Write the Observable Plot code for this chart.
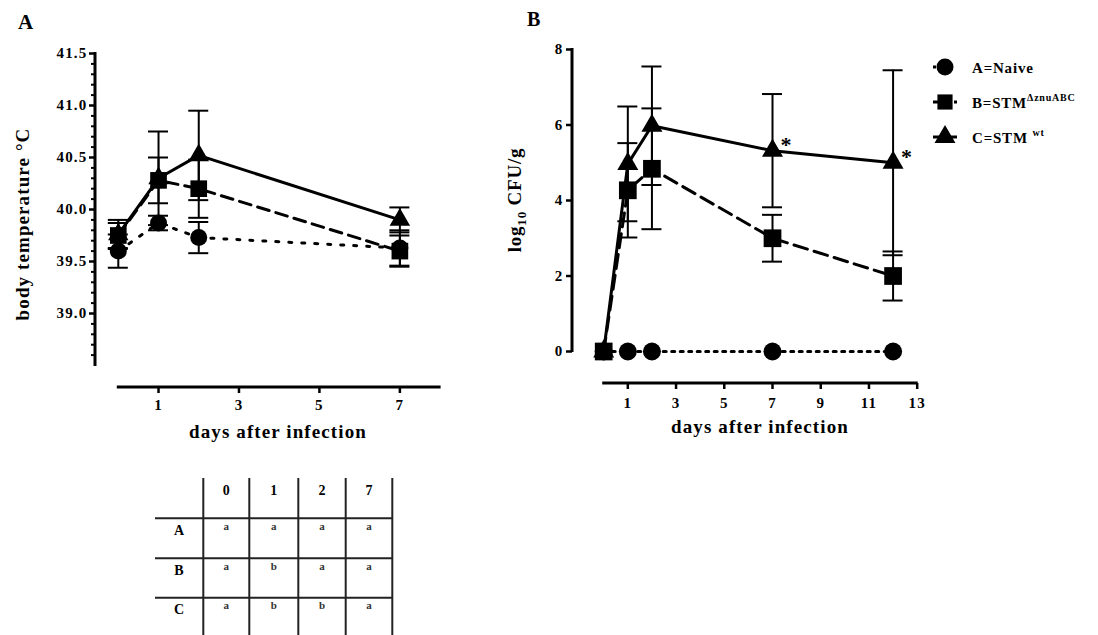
<!DOCTYPE html>
<html>
<head>
<meta charset="utf-8">
<script src="https://cdn.jsdelivr.net/npm/d3@7"></script>
<script src="https://cdn.jsdelivr.net/npm/@observablehq/plot@0.6"></script>
<style>
  body { margin: 0; background: #fff; }
  #fig { position: relative; width: 1098px; height: 635px; overflow: hidden; background: #fff; }
  #fig svg { position: absolute; left: 0; top: 0; }
</style>
</head>
<body>
<div id="fig"></div>
<script>
const FONT = '"Liberation Serif", "Times New Roman", serif';
const W = 1098, H = 635;

// ---- Panel A: body temperature (°C), mean ± SD ----
const tempDays = [0, 1, 2, 7];
const tempNaive = [39.60, 39.87, 39.73, 39.63];
const tempNaiveSD = [0.16, 0.07, 0.15, 0.17];
const tempZnu = [39.75, 40.28, 40.20, 39.60];
const tempZnuSD = [0.12, 0.22, 0.28, 0.15];
const tempWt = [39.76, 40.30, 40.52, 39.90];
const tempWtSD = [0.14, 0.45, 0.43, 0.12];
const tempTicks = [39.0, 39.5, 40.0, 40.5, 41.0, 41.5];
const tempDayTicks = [1, 3, 5, 7];

// ---- Panel B: log10 CFU/g, mean ± SD ----
const cfuDays = [0, 1, 2, 7, 12];
const cfuNaive = [0, 0, 0, 0, 0];
const cfuZnu = [0, 4.27, 4.84, 3.00, 2.00];
const cfuZnuSD = [0, 1.25, 1.60, 0.62, 0.65];
const cfuWt = [0, 4.97, 5.98, 5.32, 5.00];
const cfuWtSD = [0, 1.52, 1.57, 1.50, 2.45];
const cfuTicks = [0, 2, 4, 6, 8];
const cfuDayTicks = [1, 3, 5, 7, 9, 11, 13];
const cfuSignificantDays = [7, 12];

// ---- Groups (legend) ----
const groupKeys = ["A", "B", "C"];
const groupNames = ["Naive", "STM", "STM "];
const groupSuper = ["", "ΔznuABC", "wt"];

// ---- Statistics table for panel A ----
const tableDays = ["0", "1", "2", "7"];
const tableGroups = ["A", "B", "C"];
const tableLetters = [
  ["a", "a", "a", "a"],
  ["a", "b", "a", "a"],
  ["a", "b", "b", "a"]
];

// line / symbol appearance per group
const look = {
  A: {symbol: "circle", dashA: "3,10", dashB: "3,5.5"},
  B: {symbol: "square", dashA: "12,7", dashB: "14,7"},
  C: {symbol: "triangle", dashA: null, dashB: null}
};

const rows = (days, means, sds, group) =>
  days.map((day, i) => ({day, mean: means[i], sd: sds ? sds[i] : 0, group}));

const tempData = {
  A: rows(tempDays, tempNaive, tempNaiveSD, "A"),
  B: rows(tempDays, tempZnu, tempZnuSD, "B"),
  C: rows(tempDays, tempWt, tempWtSD, "C")
};
const cfuData = {
  A: rows(cfuDays, cfuNaive, null, "A"),
  B: rows(cfuDays, cfuZnu, cfuZnuSD, "B"),
  C: rows(cfuDays, cfuWt, cfuWtSD, "C")
};

function seriesMarks(data, dashKey, radii) {
  const lines = groupKeys.map(g => Plot.line(data[g], {
    x: "day", y: "mean", stroke: "#000", strokeWidth: 3,
    strokeDasharray: look[g][dashKey] || undefined
  }));
  const withSD = groupKeys.flatMap(g => data[g]).filter(d => d.sd > 0);
  const caps = withSD.flatMap(d => [{day: d.day, v: d.mean + d.sd}, {day: d.day, v: d.mean - d.sd}]);
  const bars = [
    Plot.ruleX(withSD, {x: "day", y1: d => d.mean - d.sd, y2: d => d.mean + d.sd, stroke: "#000", strokeWidth: 2}),
    Plot.ruleY(caps, {y: "v", x1: "day", x2: "day", insetLeft: -10, insetRight: -10, stroke: "#000", strokeWidth: 2})
  ];
  // circles first, squares on top
  const dots = ["A", "C", "B"].map(g => Plot.dot(data[g], {
    x: "day", y: "mean", symbol: look[g].symbol, r: radii[g], fill: "#000", stroke: "none"
  }));
  return [...lines, ...bars, ...dots];
}

const baseStyle = {
  background: "transparent", fontFamily: FONT, fontWeight: "bold", fontSize: "15px",
  letterSpacing: "1.2px", color: "#000", overflow: "visible"
};

// ---------------- Panel A ----------------
const aLeft = 95, aBottom = 387;
const tempMinor = d3.range(386, 415).filter(v => v % 5 !== 0).map(v => v / 10);
const plotA = Plot.plot({
  width: W, height: H,
  marginLeft: aLeft, marginTop: 53, marginRight: W - 440, marginBottom: H - aBottom,
  style: baseStyle,
  x: {domain: [0, 8], range: [117.8, 439.6], label: null},
  y: {domain: [38.5, 41.5], range: [365, 53], label: null},
  marks: [
    Plot.axisY({ticks: tempMinor, tickSize: 4, tickFormat: () => "", strokeWidth: 2, label: null}),
    Plot.axisY({ticks: tempTicks, tickSize: 6, tickPadding: 2, tickFormat: d3.format(".1f"), strokeWidth: 2.5, label: null, fontSize: 15}),
    Plot.axisX({ticks: tempDayTicks, tickSize: 6, tickPadding: 6, strokeWidth: 2.5, label: null, fontSize: 15}),
    ...seriesMarks(tempData, "dashA", {A: 8.5, B: 9.4, C: 7.6})
  ]
});

// ---------------- Panel B ----------------
const bLeft = 572, bBottom = 383;
const plotB = Plot.plot({
  width: W, height: H,
  marginLeft: bLeft, marginTop: 49, marginRight: W - 918, marginBottom: H - bBottom,
  style: baseStyle,
  x: {domain: [0, 13], range: [603.2, 916.7], label: null},
  y: {domain: [0, 8], range: [351, 49], label: null},
  marks: [
    Plot.axisY({ticks: cfuTicks, tickSize: 6, tickPadding: 3, strokeWidth: 2.5, label: null, fontSize: 15}),
    Plot.axisX({ticks: cfuDayTicks, tickSize: 6, tickPadding: 8, strokeWidth: 2.5, label: null, fontSize: 15}),
    ...seriesMarks(cfuData, "dashB", {A: 9, B: 10, C: 7.8}),
    Plot.text(cfuData.C.filter(d => cfuSignificantDays.includes(d.day)), {
      x: "day", y: "mean", text: () => "*", dx: 14, dy: -6, fontSize: 22, fill: "#000"
    })
  ]
});

const fig = document.getElementById("fig");
fig.append(plotA, plotB);

// ---------- axis lines, titles, legend, table ----------
function axisLines(svg, left, bottom) {
  const x = svg.scale("x"), y = svg.scale("y");
  const g = d3.select(svg).append("g").attr("stroke", "#000").attr("stroke-width", 3);
  g.append("line").attr("x1", left).attr("x2", left)
    .attr("y1", y.apply(y.domain[1]) - 1).attr("y2", y.apply(y.domain[0]) + 1);
  g.append("line").attr("y1", bottom).attr("y2", bottom)
    .attr("x1", x.apply(x.domain[0]) - 1).attr("x2", x.apply(x.domain[1]) + 1);
}
axisLines(plotA, aLeft, aBottom);
axisLines(plotB, bLeft, bBottom);

function label(svg, text, x, y, size, opts = {}) {
  const t = d3.select(svg).append("text")
    .attr("font-family", FONT).attr("font-weight", "bold").attr("font-size", size)
    .attr("letter-spacing", opts.spacing || 0)
    .attr("text-anchor", opts.anchor || "start").attr("fill", "#000")
    .attr("transform", `translate(${x},${y})` + (opts.rotate ? ` rotate(${opts.rotate})` : ""));
  t.text(text);
  return t;
}

// panel letters
label(plotA, "A", 18, 29, 21);
label(plotB, "B", 527, 26, 20);

// axis titles
label(plotA, "days after infection", 278, 438, 19, {anchor: "middle", spacing: 1.1});
label(plotB, "days after infection", 760, 433, 19, {anchor: "middle", spacing: 1.1});
label(plotA, "body temperature °C", 29, 224, 19, {anchor: "middle", rotate: -90, spacing: 1.1});
const yb = label(plotB, "log", 521, 200, 19, {anchor: "middle", rotate: -90, spacing: 0.8});
yb.append("tspan").attr("font-size", 13).attr("dy", 5).text("10");
yb.append("tspan").attr("dy", -5).text(" CFU/g");

// legend
const legend = d3.select(plotB).append("g");
const legendY = [67, 102, 137];
const legendSize = {A: 227, B: 230, C: 190};
groupKeys.forEach((g, i) => {
  const y = legendY[i];
  legend.append("line").attr("x1", 933).attr("x2", 957).attr("y1", y).attr("y2", y)
    .attr("stroke", "#000").attr("stroke-width", 3)
    .attr("stroke-dasharray", look[g].dashB || null);
  const sym = {circle: d3.symbolCircle, square: d3.symbolSquare, triangle: d3.symbolTriangle}[look[g].symbol];
  legend.append("path").attr("transform", `translate(945,${y})`)
    .attr("d", d3.symbol(sym, legendSize[g])()).attr("fill", "#000");
  const t = legend.append("text").attr("x", 972).attr("y", y + 6)
    .attr("text-anchor", "start")
    .attr("font-family", FONT).attr("font-weight", "bold").attr("font-size", 15)
    .attr("letter-spacing", 0.8).attr("fill", "#000");
  t.append("tspan").text(`${g}=${groupNames[i]}`);
  if (groupSuper[i]) t.append("tspan").attr("font-size", 10).attr("dy", -7).text(groupSuper[i]);
});

// statistics table under panel A
const tbl = d3.select(plotA).append("g").attr("font-family", FONT).attr("fill", "#000").attr("letter-spacing", 0);
const colX = [203.3, 249.3, 298.3, 345.7, 392.3];
const rowY = [518.3, 558.3, 597.7];
colX.forEach(x => tbl.append("line").attr("x1", x).attr("x2", x).attr("y1", 478).attr("y2", 635)
  .attr("stroke", "#222").attr("stroke-width", 2));
rowY.forEach(y => tbl.append("line").attr("x1", 155).attr("x2", colX[colX.length - 1]).attr("y1", y).attr("y2", y)
  .attr("stroke", "#222").attr("stroke-width", 2));
tableDays.forEach((d, j) => tbl.append("text").attr("x", (colX[j] + colX[j + 1]) / 2).attr("y", 495)
  .attr("text-anchor", "middle").attr("font-weight", "bold").attr("font-size", 14).text(d));
tableGroups.forEach((gname, i) => {
  const base = rowY[i] + 16.5;
  tbl.append("text").attr("x", 179).attr("y", base).attr("text-anchor", "middle")
    .attr("font-weight", "bold").attr("font-size", 14).text(gname);
  tableLetters[i].forEach((s, j) => tbl.append("text").attr("x", (colX[j] + colX[j + 1]) / 2).attr("y", base - 5)
    .attr("text-anchor", "middle").attr("font-weight", "bold").attr("font-size", 11).attr("fill", "#333").text(s));
});
</script>
</body>
</html>
